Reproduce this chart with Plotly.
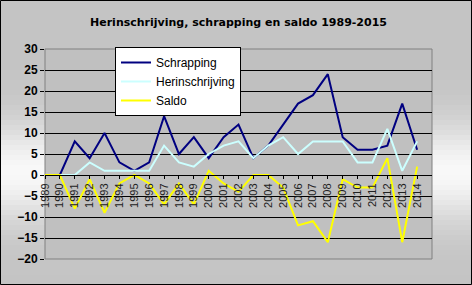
import math
import plotly.graph_objects as go

years = list(range(1989, 2015))
schrapping = [0, 0, 8, 4, 10, 3, 1, 3, 14, 5, 9, 4, 9, 12, 4, 7, 12, 17, 19, 24, 9, 6, 6, 7, 17, 6]
herinschrijving = [0, 0, 0, 3, 1, 1, 1, 1, 7, 3, 2, 5, 7, 8, 4, 7, 9, 5, 8, 8, 8, 3, 3, 11, 1, 8]
saldo = [0, 0, -8, -1, -9, -2, 0, -2, -7, -2, -7, 1, -2, -4, 0, 0, -3, -12, -11, -16, -1, -3, -3, 4, -16, 2]
y_ticks = [30, 25, 20, 15, 10, 5, 0, -5, -10, -15, -20]

W, H = 472, 285
ML, MR, MT, MB = 45, 40, 49, 26
PW, PH = W - ML - MR, H - MT - MB

fig = go.Figure()
fig.add_trace(go.Scatter(x=years, y=schrapping, name="Schrapping", mode="lines",
                         line=dict(color="#000080", width=2)))
fig.add_trace(go.Scatter(x=years, y=herinschrijving, name="Herinschrijving", mode="lines",
                         line=dict(color="#ccffff", width=2)))
fig.add_trace(go.Scatter(x=years, y=saldo, name="Saldo", mode="lines",
                         line=dict(color="#ffff00", width=2)))

# vertical gradient background strips
shapes = []
n = 57
for i in range(n):
    y0px = i * H / n
    y1px = (i + 1) * H / n
    c = (y0px + y1px) / 2
    v = int(round(196 + 52 * math.exp(-((c - 172) / 48) ** 2)))
    col = f"rgb({v},{v},{v})"
    shapes.append(dict(type="rect", xref="paper", yref="paper", layer="below",
                       x0=-ML / PW, x1=1 + MR / PW,
                       y0=1 + (MT - y1px) / PH, y1=1 + (MT - y0px) / PH,
                       fillcolor=col, line=dict(width=0)))
shapes.append(dict(type="rect", xref="paper", yref="paper", layer="below",
                   x0=0, x1=1, y0=0, y1=1, fillcolor="#c0c0c0",
                   line=dict(color="#808080", width=1)))
# outer black border
shapes.append(dict(type="rect", xref="paper", yref="paper", layer="above",
                   x0=-(ML - 0.5) / PW, x1=1 + (MR - 0.5) / PW,
                   y0=-(MB - 0.5) / PH, y1=1 + (MT - 0.5) / PH,
                   line=dict(color="black", width=1)))

zero_pos = (0 - (-20)) / 50

fig.update_layout(
    width=W, height=H,
    margin=dict(l=ML, r=MR, t=MT, b=MB),
    paper_bgcolor="#c4c4c4",
    plot_bgcolor="#c0c0c0",
    shapes=shapes,
    title=dict(text="<b>Herinschrijving, schrapping en saldo 1989-2015</b>",
               x=0.5, xref="paper", y=1 - 22 / H, yanchor="middle",
               font=dict(family="DejaVu Sans", size=11, color="black")),
    showlegend=True,
    legend=dict(x=(115 - ML) / PW, y=1 + (MT - 47) / PH, xanchor="left", yanchor="top",
                bgcolor="white", bordercolor="black", borderwidth=1,
                font=dict(family="Arial", size=12, color="black"),
                tracegroupgap=0, itemwidth=30),
    xaxis=dict(range=[1989, 2015], tickvals=years, ticktext=[str(y) for y in years],
               tickangle=-90, anchor="free", position=zero_pos,
               showgrid=False, zeroline=False, showline=True, linecolor="black", linewidth=1,
               ticks="outside", ticklen=3, tickcolor="black",
               tickfont=dict(family="Arial", size=11, color="#222222")),
    yaxis=dict(range=[-20, 30], tickvals=y_ticks, showgrid=True, gridcolor="black",
               gridwidth=1, zeroline=False, showline=False,
               ticks="outside", ticklen=4, tickcolor="black",
               tickfont=dict(family="Arial", size=12, color="black", weight="bold")),
)

fig.write_html("out.html")
